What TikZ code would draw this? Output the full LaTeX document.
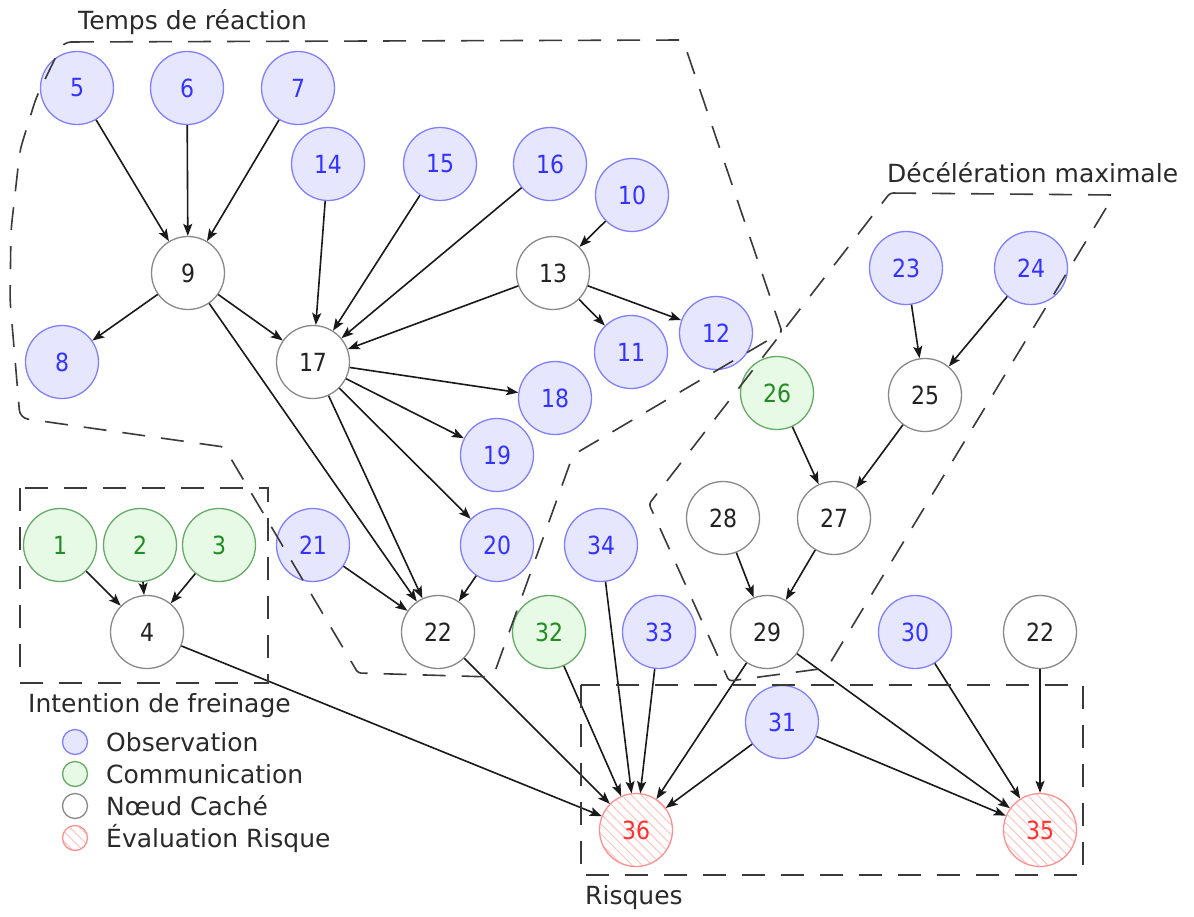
\documentclass[tikz,border=0pt]{standalone}
\usepackage{fontspec}
\setmainfont{DejaVu Sans}
\newfontfamily\numfont[FakeStretch=0.88]{DejaVu Sans}
\usetikzlibrary{arrows.meta,patterns.meta}
\definecolor{obsfill}{HTML}{E6E6FF}
\definecolor{obsdraw}{HTML}{8080FF}
\definecolor{obstext}{HTML}{3333FF}
\definecolor{comfill}{HTML}{E6FAE6}
\definecolor{comdraw}{HTML}{66AA66}
\definecolor{comtext}{HTML}{228B22}
\definecolor{hiddraw}{HTML}{888888}
\definecolor{hidtext}{HTML}{222222}
\definecolor{riskdraw}{HTML}{FF9090}
\definecolor{risktext}{HTML}{FF3030}
\definecolor{hatchc}{HTML}{FFC0C0}
\definecolor{dashc}{HTML}{3A3A3A}
\definecolor{labc}{HTML}{2A2A2A}
\begin{document}
\begin{tikzpicture}[x=1pt,y=-1pt,
 nd/.style={circle,minimum size=73pt,inner sep=0pt,line width=1.3pt,font=\numfont\fontsize{25}{28}\selectfont},
 obs/.style={nd,draw=obsdraw,fill=obsfill,text=obstext},
 com/.style={nd,draw=comdraw,fill=comfill,text=comtext},
 hid/.style={nd,draw=hiddraw,fill=white,text=hidtext},
 risk/.style={nd,draw=riskdraw,pattern={Lines[angle=-45,distance=7pt,line width=0.9pt]},pattern color=hatchc,text=risktext},
 edge/.style={draw=black!90,line width=1.6pt,-{Stealth[length=12pt,width=9pt,inset=2.5pt]}},
 grp/.style={draw=dashc,line width=1.6pt,dash pattern=on 23pt off 16pt,rounded corners=3pt},
 lab/.style={text=labc,font=\fontsize{25}{30}\selectfont,anchor=west,inner sep=0pt},
 leg/.style={circle,minimum size=25pt,inner sep=0pt,line width=1.3pt}
]
\useasboundingbox[fill=white] (0,0) rectangle (1194,916);

% nodes
\node[obs] (n5) at (77,88) {5};
\node[obs] (n6) at (187,88) {6};
\node[obs] (n7) at (298,88) {7};
\node[obs] (n14) at (328,164) {14};
\node[obs] (n15) at (440,164) {15};
\node[obs] (n16) at (550,164) {16};
\node[obs] (n10) at (632,195) {10};
\node[hid] (n9) at (188,273) {9};
\node[hid] (n13) at (553,273) {13};
\node[obs] (n8) at (62,362) {8};
\node[hid] (n17) at (313,362) {17};
\node[obs] (n11) at (631,352) {11};
\node[obs] (n12) at (716,333) {12};
\node[obs] (n18) at (555,398) {18};
\node[obs] (n19) at (497,455) {19};
\node[com] (n26) at (777,393) {26};
\node[hid] (n25) at (925,395) {25};
\node[obs] (n23) at (906,268) {23};
\node[obs] (n24) at (1031,268) {24};
\node[com] (n1) at (60,545) {1};
\node[com] (n2) at (140,545) {2};
\node[com] (n3) at (219,545) {3};
\node[hid] (n4) at (147,632) {4};
\node[obs] (n21) at (313,545) {21};
\node[obs] (n20) at (497,545) {20};
\node[obs] (n34) at (601,545) {34};
\node[hid] (n28) at (723,518) {28};
\node[hid] (n27) at (834,518) {27};
\node[hid] (n22) at (438,632) {22};
\node[com] (n32) at (549,632) {32};
\node[obs] (n33) at (659,632) {33};
\node[hid] (n29) at (767,632) {29};
\node[obs] (n30) at (915,632) {30};
\node[hid] (n22b) at (1040,632) {22};
\node[obs] (n31) at (782,722) {31};
\node[risk] (n36) at (636,830) {36};
\node[risk] (n35) at (1040,830) {35};

% edges
\draw[edge] (n5) -- (n9);
\draw[edge] (n6) -- (n9);
\draw[edge] (n7) -- (n9);
\draw[edge] (n9) -- (n8);
\draw[edge] (n9) -- (n17);
\draw[edge] (n9) -- (n22);
\draw[edge] (n14) -- (n17);
\draw[edge] (n15) -- (n17);
\draw[edge] (n16) -- (n17);
\draw[edge] (n13) -- (n17);
\draw[edge] (n10) -- (n13);
\draw[edge] (n13) -- (n11);
\draw[edge] (n13) -- (n12);
\draw[edge] (n17) -- (n18);
\draw[edge] (n17) -- (n19);
\draw[edge] (n17) -- (n20);
\draw[edge] (n17) -- (n22);
\draw[edge] (n21) -- (n22);
\draw[edge] (n20) -- (n22);
\draw[edge] (n1) -- (n4);
\draw[edge] (n2) -- (n4);
\draw[edge] (n3) -- (n4);
\draw[edge] (n4) -- (n36);
\draw[edge] (n22) -- (n36);
\draw[edge] (n32) -- (n36);
\draw[edge] (n34) -- (n36);
\draw[edge] (n33) -- (n36);
\draw[edge] (n29) -- (n36);
\draw[edge] (n31) -- (n36);
\draw[edge] (n23) -- (n25);
\draw[edge] (n24) -- (n25);
\draw[edge] (n26) -- (n27);
\draw[edge] (n25) -- (n27);
\draw[edge] (n28) -- (n29);
\draw[edge] (n27) -- (n29);
\draw[edge] (n29) -- (n35);
\draw[edge] (n31) -- (n35);
\draw[edge] (n30) -- (n35);
\draw[edge] (n22b) -- (n35);

% groups
\draw[grp] (63,42) -- (683,40) -- (782,332) -- (573,455) -- (493,677) -- (358,673) -- (224,447) [rounded corners=8pt] -- (20,418) -- (10,300) -- (11,230) -- (20,150) -- (36,98) -- cycle;
\draw[grp] (890,193) -- (1114,195) -- (827,668) -- (729,681) -- (649,504) -- cycle;
\draw[grp,rounded corners=0pt] (20,488) rectangle (268,683);
\draw[grp,rounded corners=0pt] (581,685) rectangle (1083,875);

% labels
\node[lab] (lbA) at (78,22) {Temps de réaction};
\node[lab] (lbB) at (887,173) {Décélération maximale};
\node[lab] (lbC) at (28,706) {Intention de freinage};
\node[lab] (lbD) at (585,898) {Risques};

% legend
\node[leg,draw=obsdraw,fill=obsfill] (lg1) at (75,742) {};
\node[leg,draw=comdraw,fill=comfill] (lg2) at (75,774) {};
\node[leg,draw=hiddraw,fill=white] (lg3) at (75,806) {};
\node[leg,draw=riskdraw,pattern={Lines[angle=-45,distance=7pt,line width=0.9pt]},pattern color=hatchc] (lg4) at (75,838) {};
\node[lab] (lt1) at (106,742) {Observation};
\node[lab] (lt2) at (106,774) {Communication};
\node[lab] (lt3) at (106,806) {Nœud Caché};
\node[lab] (lt4) at (106,838) {Évaluation Risque};
\end{tikzpicture}
\end{document}
